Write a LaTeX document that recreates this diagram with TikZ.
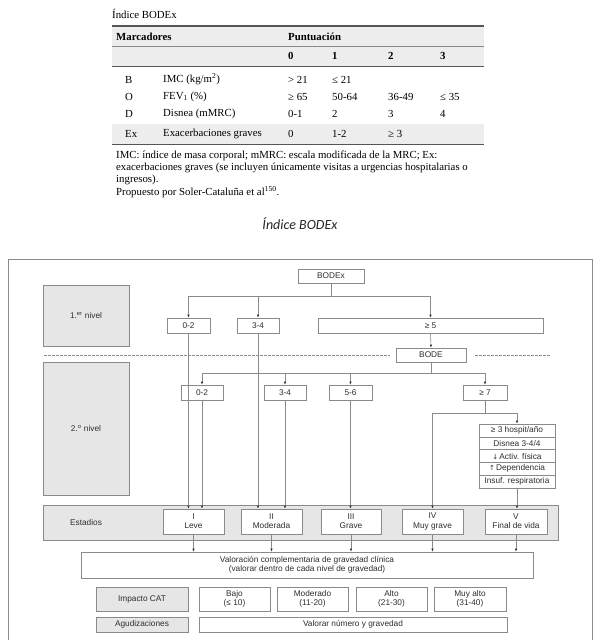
\documentclass[tikz,border=0pt]{standalone}
\usepackage{fontspec}
\setmainfont{Liberation Serif}
\setsansfont{Liberation Sans}
\newfontfamily\capfont{Carlito}
\usetikzlibrary{arrows.meta}
\definecolor{linegray}{HTML}{8A8A8A}
\definecolor{boxgray}{HTML}{E6E6E6}
\definecolor{txt}{HTML}{2E2E2E}
\definecolor{rule}{HTML}{555555}
\definecolor{hdr}{HTML}{EDEDED}
\begin{document}
\begin{tikzpicture}[x=1pt,y=-1pt,
  box/.style={draw=linegray, line width=0.6pt, fill=white, inner sep=0pt, align=center,
    font=\sffamily\fontsize{8.3}{9.3}\selectfont, text=txt},
  gbox/.style={box, fill=boxgray},
  conn/.style={draw=linegray, line width=0.6pt},
  arr/.style={conn, -{Latex[length=3pt,width=2.4pt,color=txt]}},
  tt/.style={font=\fontsize{10.8}{12}\selectfont, text=black, inner sep=0pt, anchor=west},
  tb/.style={tt, font=\fontsize{10.8}{12}\selectfont\bfseries},
  note/.style={font=\fontsize{10.8}{12}\selectfont, inner sep=0pt, anchor=west}]
\useasboundingbox (0,0) rectangle (602,640);
\fill[white] (0,0) rectangle (602,640);

% ---------------- Table ----------------
\node[tt] (title) at (112,14) {Índice BODEx};
\fill[hdr] (112,26) rectangle (484,66);
\fill[hdr] (112,124) rectangle (484,144);
\draw[rule, line width=1.2pt] (112,26) -- (484,26);
\draw[linegray, line width=0.5pt] (112,46) -- (484,46);
\draw[rule, line width=0.9pt] (112,66) -- (484,66);
\draw[rule, line width=0.9pt] (112,144) -- (484,144);
\node[tb] (hm) at (116,36.5) {Marcadores};
\node[tb] (hp) at (288,36.5) {Puntuación};
\node[tb] (h0) at (288,56) {0};
\node[tb] (h1) at (332,56) {1};
\node[tb] (h2) at (388,56) {2};
\node[tb] (h3) at (440,56) {3};
\node[tt] (rB) at (125,79.5) {B};
\node[tt] (rBn) at (163,79.5) {IMC (kg/m\textsuperscript{2})};
\node[tt] (rB0) at (288,79.5) {> 21};
\node[tt] (rB1) at (332,79.5) {≤ 21};
\node[tt] (rO) at (125,96.5) {O};
\node[tt] (rOn) at (163,96.5) {FEV\textsubscript{1} (\%)};
\node[tt] (rO0) at (288,96.5) {≥ 65};
\node[tt] (rO1) at (332,96.5) {50-64};
\node[tt] (rO2) at (388,96.5) {36-49};
\node[tt] (rO3) at (440,96.5) {≤ 35};
\node[tt] (rD) at (125,113.5) {D};
\node[tt] (rDn) at (163,113.5) {Disnea (mMRC)};
\node[tt] (rD0) at (288,113.5) {0-1};
\node[tt] (rD1) at (332,113.5) {2};
\node[tt] (rD2) at (388,113.5) {3};
\node[tt] (rD3) at (440,113.5) {4};
\node[tt] (rE) at (125,134) {Ex};
\node[tt] (rEn) at (163,134) {Exacerbaciones graves};
\node[tt] (rE0) at (288,134) {0};
\node[tt] (rE1) at (332,134) {1-2};
\node[tt] (rE2) at (388,134) {≥ 3};
\node[note] (n1) at (116,156) {IMC: índice de masa corporal; mMRC: escala modificada de la MRC; Ex:};
\node[note] (n2) at (116,168) {exacerbaciones graves (se incluyen únicamente visitas a urgencias hospitalarias o};
\node[note] (n3) at (116,180) {ingresos).};
\node[note] (n4) at (116,192) {Propuesto por Soler-Cataluña et al\textsuperscript{150}.};
\node[font=\capfont\itshape\fontsize{14}{16}\selectfont, text=black!85, inner sep=0pt] (cap) at (300,224) {Índice BODEx};

% ---------------- Diagram ----------------
\draw[linegray, line width=0.7pt] (8,642) -- (8,259) -- (592,259) -- (592,642);

\node[gbox, minimum width=86pt, minimum height=61pt] (lv1) at (86,315.5) {1.\textsuperscript{er} nivel};
\node[gbox, minimum width=86pt, minimum height=133pt] (lv2) at (86,428.5) {2.\textsuperscript{o} nivel};

\node[box, minimum width=66pt, minimum height=14pt] (bodex) at (331,276) {BODEx};
\node[box, minimum width=43pt, minimum height=15pt] (a02) at (188.5,325.5) {0-2};
\node[box, minimum width=42pt, minimum height=15pt] (a34) at (258,325.5) {3-4};
\node[box, minimum width=225pt, minimum height=15pt] (a5) at (430.5,325.5) {≥ 5};
\node[box, minimum width=70pt, minimum height=14pt] (bode) at (431,355) {BODE};

\draw[linegray, dash pattern=on 2.5pt off 1.5pt, line width=0.5pt] (44,355) -- (390,355);
\draw[linegray, dash pattern=on 2.5pt off 1.5pt, line width=0.5pt] (475,355) -- (550,355);

\node[box, minimum width=42pt, minimum height=15pt] (b02) at (202,392.5) {0-2};
\node[box, minimum width=42pt, minimum height=15pt] (b34) at (285,392.5) {3-4};
\node[box, minimum width=43pt, minimum height=15pt] (b56) at (350.5,392.5) {5-6};
\node[box, minimum width=44pt, minimum height=15pt] (b7) at (485,392.5) {≥ 7};

\node[box, minimum width=76pt, minimum height=12.8pt] (c1) at (517,430.4) {≥ 3 hospit/año};
\node[box, minimum width=76pt, minimum height=12.8pt] (c2) at (517,443.2) {Disnea 3-4/4};
\node[box, minimum width=76pt, minimum height=12.8pt] (c3) at (517,456.0) {\fontspec{DejaVu Sans}\fontsize{7}{8}\selectfont↓\,\sffamily\fontsize{8.3}{9.3}\selectfont Activ. física};
\node[box, minimum width=76pt, minimum height=12.8pt] (c4) at (517,468.8) {\fontspec{DejaVu Sans}\fontsize{7}{8}\selectfont↑\,\sffamily\fontsize{8.3}{9.3}\selectfont Dependencia};
\node[box, minimum width=76pt, minimum height=12.8pt] (c5) at (517,481.6) {Insuf. respiratoria};

\node[gbox, minimum width=515pt, minimum height=35pt] (band) at (300.5,522.5) {};
\node[box, draw=none, fill=none] (est) at (86,523) {Estadios};
\node[box, minimum width=61pt, minimum height=25pt] (sI) at (193.5,521.5) {I\\Leve};
\node[box, minimum width=61pt, minimum height=25pt] (sII) at (271.5,521.5) {II\\Moderada};
\node[box, minimum width=60pt, minimum height=25pt] (sIII) at (351,521.5) {III\\Grave};
\node[box, minimum width=61pt, minimum height=25pt] (sIV) at (432.5,521.5) {IV\\Muy grave};
\node[box, minimum width=62pt, minimum height=25pt] (sV) at (516,521.5) {V\\Final de vida};

\node[box, minimum width=452pt, minimum height=26pt] (val) at (307,565) {Valoración complementaria de gravedad clínica\\(valorar dentro de cada nivel de gravedad)};

\node[gbox, minimum width=92pt, minimum height=24pt] (cat) at (142,599) {Impacto CAT};
\node[box, minimum width=71pt, minimum height=24pt] (k1) at (234.5,599) {Bajo\\(≤ 10)};
\node[box, minimum width=71pt, minimum height=24pt] (k2) at (312.5,599) {Moderado\\(11-20)};
\node[box, minimum width=71pt, minimum height=24pt] (k3) at (391.5,599) {Alto\\(21-30)};
\node[box, minimum width=72pt, minimum height=24pt] (k4) at (470,599) {Muy alto\\(31-40)};
\node[gbox, minimum width=92pt, minimum height=15pt] (agu) at (142,624.5) {Agudizaciones};
\node[box, minimum width=308pt, minimum height=15pt] (vnum) at (353,624.5) {Valorar número y gravedad};

% connectors
\coordinate (bus1) at (331,296);
\draw[conn] (bodex.south) -- (bus1);
\draw[arr] (bus1) -| (a02.north);
\draw[arr] (bus1) -| (a34.north);
\draw[arr] (bus1) -| (a5.north);
\draw[arr] (a5.south) -- (bode.north);
\coordinate (bus2) at (431,373);
\draw[conn] (bode.south) -- (bus2);
\draw[arr] (bus2) -| (b02.north);
\draw[arr] (bus2) -| (b34.north);
\draw[arr] (bus2) -| (b56.north);
\draw[arr] (bus2) -| (b7.north);
\coordinate (bus3) at (485,413);
\draw[conn] (b7.south) -- (bus3);
\draw[arr] (bus3) -| (c1.north);
\draw[arr] (bus3) -| (sIV.north);
\draw[arr] (c5.south) -- (c5.south |- sV.north);

\draw[arr] (a02.south) -- (a02.south |- sI.north);
\draw[arr] (b02.south) -- (b02.south |- sI.north);
\draw[arr] (a34.south) -- (a34.south |- sII.north);
\draw[arr] (b34.south) -- (b34.south |- sII.north);
\draw[arr] (b56.south) -- (b56.south |- sIII.north);

\draw[arr] (sI.south) -- (sI.south |- val.north);
\draw[arr] (sII.south) -- (sII.south |- val.north);
\draw[arr] (sIII.south) -- (sIII.south |- val.north);
\draw[arr] (sIV.south) -- (sIV.south |- val.north);
\draw[arr] (sV.south) -- (sV.south |- val.north);
\end{tikzpicture}
\end{document}
